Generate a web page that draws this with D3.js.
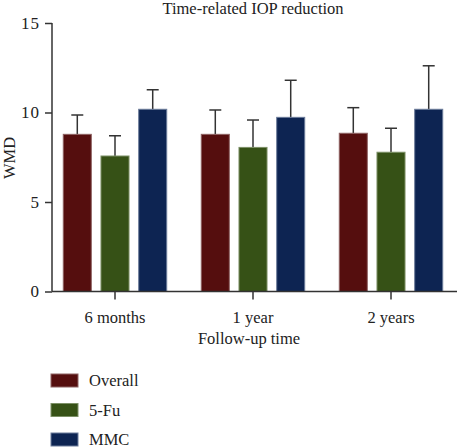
<!DOCTYPE html>
<html>
<head>
<meta charset="utf-8">
<script src="https://cdn.jsdelivr.net/npm/d3@7"></script>
<style>
html,body{margin:0;padding:0;background:#fff;}
svg{display:block;}
text{font-family:"Liberation Serif","DejaVu Serif",serif;fill:#222;}
</style>
</head>
<body>
<svg id="chart" width="457" height="448"></svg>
<script>
const categories = ["6 months", "1 year", "2 years"];
const seriesNames = ["Overall", "5-Fu", "MMC"];
const overallMean = [8.78, 8.78, 8.84];
const overallErr  = [9.86, 10.14, 10.27];
const fuMean      = [7.57, 8.05, 7.78];
const fuErr       = [8.70, 9.58, 9.12];
const mmcMean     = [10.18, 9.73, 10.18];
const mmcErr      = [11.27, 11.80, 12.61];
const yTicks = [0, 5, 10, 15];
const colors = ["#550e0e", "#365116", "#0d2452"];
const strokes = ["#8e6262", "#7c9066", "#6b7b9a"];

const means = [overallMean, fuMean, mmcMean];
const errs = [overallErr, fuErr, mmcErr];

const svg = d3.select("#chart");
const x0 = d3.scaleBand().domain(categories).range([46, 460]).padding(0);
const x1 = d3.scaleBand().domain(seriesNames).range([0, x0.bandwidth()]).paddingInner(0.23).paddingOuter(0.445);
const y = d3.scaleLinear().domain([0, 15]).range([291.5, 23]);

const data = [];
categories.forEach((c, i) => {
  seriesNames.forEach((s, j) => {
    data.push({cat: c, ser: s, j: j, v: means[j][i], e: errs[j][i]});
  });
});

// error bars (drawn behind bars)
const eb = svg.append("g").attr("stroke", "#333").attr("stroke-width", 1.5);
data.forEach(d => {
  const cx = x0(d.cat) + x1(d.ser) + x1.bandwidth() / 2;
  eb.append("line").attr("x1", cx).attr("x2", cx).attr("y1", y(d.v)).attr("y2", y(d.e));
  eb.append("line").attr("x1", cx - 6).attr("x2", cx + 6).attr("y1", y(d.e)).attr("y2", y(d.e));
});

svg.append("g").selectAll("rect").data(data).join("rect")
  .attr("x", d => x0(d.cat) + x1(d.ser) + 0.5)
  .attr("width", x1.bandwidth() - 1)
  .attr("y", d => y(d.v))
  .attr("height", d => y(0) - y(d.v))
  .attr("fill", d => colors[d.j])
  .attr("stroke", d => strokes[d.j])
  .attr("stroke-width", 1);

// y axis
const yAxis = svg.append("g").attr("transform", "translate(52,0)")
  .call(d3.axisLeft(y).tickValues(yTicks).tickSize(7).tickPadding(5));
yAxis.select(".domain").attr("stroke", "#333").attr("stroke-width", 1.5).attr("d", `M0,${y(15)}V${y(0)}`);
yAxis.selectAll(".tick line").attr("stroke", "#333").attr("stroke-width", 1.5);
yAxis.selectAll(".tick text").attr("font-size", 17).attr("letter-spacing", 1).attr("fill", "#222")
  .style("font-family", '"Liberation Serif",serif');

// x axis
const xAxis = svg.append("g").attr("transform", `translate(0,${y(0)})`)
  .call(d3.axisBottom(x0).tickSize(8).tickPadding(12));
xAxis.select(".domain").attr("stroke", "#333").attr("stroke-width", 1.5).attr("d", `M52,0H457`);
xAxis.selectAll(".tick line").attr("stroke", "#333").attr("stroke-width", 1.5);
xAxis.selectAll(".tick text").attr("font-size", 16.5).attr("fill", "#222")
  .style("font-family", '"Liberation Serif",serif');

// titles
svg.append("text").attr("x", 253).attr("y", 14).attr("text-anchor", "middle")
  .attr("font-size", 16.5).text("Time-related IOP reduction");
svg.append("text").attr("x", 249).attr("y", 344).attr("text-anchor", "middle")
  .attr("font-size", 16.5).text("Follow-up time");
svg.append("text").attr("transform", "translate(15,158) rotate(-90)").attr("text-anchor", "middle")
  .attr("font-size", 16.5).text("WMD");

// legend
const leg = svg.append("g");
seriesNames.forEach((s, j) => {
  const cy = 380.5 + j * 29.5;
  leg.append("rect").attr("x", 51).attr("y", cy - 6.5).attr("width", 27).attr("height", 13)
    .attr("fill", colors[j]).attr("stroke", strokes[j]).attr("stroke-width", 1);
  leg.append("text").attr("x", 89).attr("y", cy + 5.5).attr("font-size", 16.5).text(s);
});
</script>
</body>
</html>
